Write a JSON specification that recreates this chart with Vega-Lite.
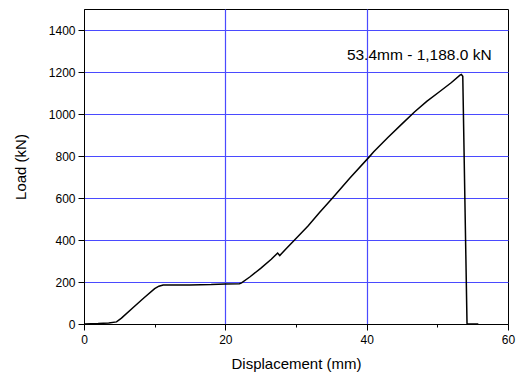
{
  "$schema": "https://vega.github.io/schema/vega-lite/v6.json",
  "width": 424,
  "height": 315,
  "autosize": {"type": "none"},
  "padding": {"left": 84, "top": 9, "right": 12, "bottom": 50},
  "background": "white",
  "config": {
    "font": "Liberation Sans",
    "view": {"stroke": "black", "strokeWidth": 1}
  },
  "datasets": {
    "curve": [
      {"d": 0, "load": 0},
      {"d": 2, "load": 2},
      {"d": 3.5, "load": 5},
      {"d": 4.6, "load": 10},
      {"d": 5.3, "load": 28},
      {"d": 7, "load": 80},
      {"d": 8.5, "load": 125},
      {"d": 10, "load": 168},
      {"d": 10.6, "load": 180},
      {"d": 11.2, "load": 186},
      {"d": 15, "load": 186},
      {"d": 18, "load": 188},
      {"d": 20, "load": 191},
      {"d": 22, "load": 192},
      {"d": 22.3, "load": 196},
      {"d": 23.5, "load": 225},
      {"d": 25, "load": 265},
      {"d": 26.5, "load": 308},
      {"d": 27.4, "load": 338},
      {"d": 27.7, "load": 326},
      {"d": 28.5, "load": 355},
      {"d": 30, "load": 407},
      {"d": 31.7, "load": 467},
      {"d": 33.3, "load": 530},
      {"d": 35.2, "load": 601},
      {"d": 37.6, "load": 694},
      {"d": 40.4, "load": 797},
      {"d": 41, "load": 820},
      {"d": 43, "load": 888},
      {"d": 45, "load": 953},
      {"d": 46.8, "load": 1011},
      {"d": 48.5, "load": 1060},
      {"d": 50.3, "load": 1106},
      {"d": 52, "load": 1150},
      {"d": 53.2, "load": 1185},
      {"d": 53.4, "load": 1188},
      {"d": 53.6, "load": 1180},
      {"d": 54.2, "load": 3},
      {"d": 54.3, "load": 0},
      {"d": 55.8, "load": 0}
    ],
    "note": [
      {"d": 37.2, "load": 1281, "label": "53.4mm - 1,188.0 kN"}
    ]
  },
  "layer": [
    {
      "data": {"name": "curve"},
      "mark": {"type": "line", "color": "black", "strokeWidth": 1.5, "clip": true},
      "encoding": {
        "x": {
          "field": "d",
          "type": "quantitative",
          "scale": {"domain": [0, 60], "nice": false, "zero": false},
          "axis": {
            "title": "Displacement (mm)",
            "values": [0, 10, 20, 30, 40, 50, 60],
            "labelExpr": "datum.value % 20 === 0 ? datum.label : ''",
            "labelFontSize": 12,
            "labelColor": "black",
            "labelPadding": 4,
            "labelFlush": false,
            "tickColor": "black",
            "tickSize": {"expr": "datum.value % 20 === 0 ? 6 : 3"},
            "domainColor": "black",
            "grid": true,
            "gridColor": "#4a4aff",
            "gridWidth": 1.2,
            "gridOpacity": {"expr": "datum.value % 20 === 0 && datum.value > 0 && datum.value < 60 ? 1 : 0"},
            "titleFontSize": 15,
            "titleFontWeight": "normal",
            "titleColor": "black",
            "titleY": 39,
            "titleBaseline": "middle"
          }
        },
        "y": {
          "field": "load",
          "type": "quantitative",
          "scale": {"domain": [0, 1500], "nice": false, "zero": false},
          "axis": {
            "title": "Load (kN)",
            "values": [0, 100, 200, 300, 400, 500, 600, 700, 800, 900, 1000, 1100, 1200, 1300, 1400],
            "labelExpr": "datum.value % 200 === 0 ? datum.value : ''",
            "labelFontSize": 12,
            "labelColor": "black",
            "labelPadding": 3,
            "labelFlush": false,
            "tickColor": "black",
            "tickSize": {"expr": "datum.value % 200 === 0 ? 6 : 3"},
            "domainColor": "black",
            "grid": true,
            "gridColor": "#4a4aff",
            "gridWidth": 1.2,
            "gridOpacity": {"expr": "datum.value % 200 === 0 && datum.value > 0 ? 1 : 0"},
            "titleFontSize": 15,
            "titleFontWeight": "normal",
            "titleColor": "black",
            "titleX": -64,
            "titleY": 157.5,
            "titleAngle": -90,
            "titleBaseline": "middle",
            "titleAlign": "center"
          }
        }
      }
    },
    {
      "data": {"name": "note"},
      "mark": {"type": "text", "align": "left", "baseline": "middle", "fontSize": 15.5, "color": "black"},
      "encoding": {
        "x": {"field": "d", "type": "quantitative"},
        "y": {"field": "load", "type": "quantitative"},
        "text": {"field": "label"}
      }
    }
  ]
}
